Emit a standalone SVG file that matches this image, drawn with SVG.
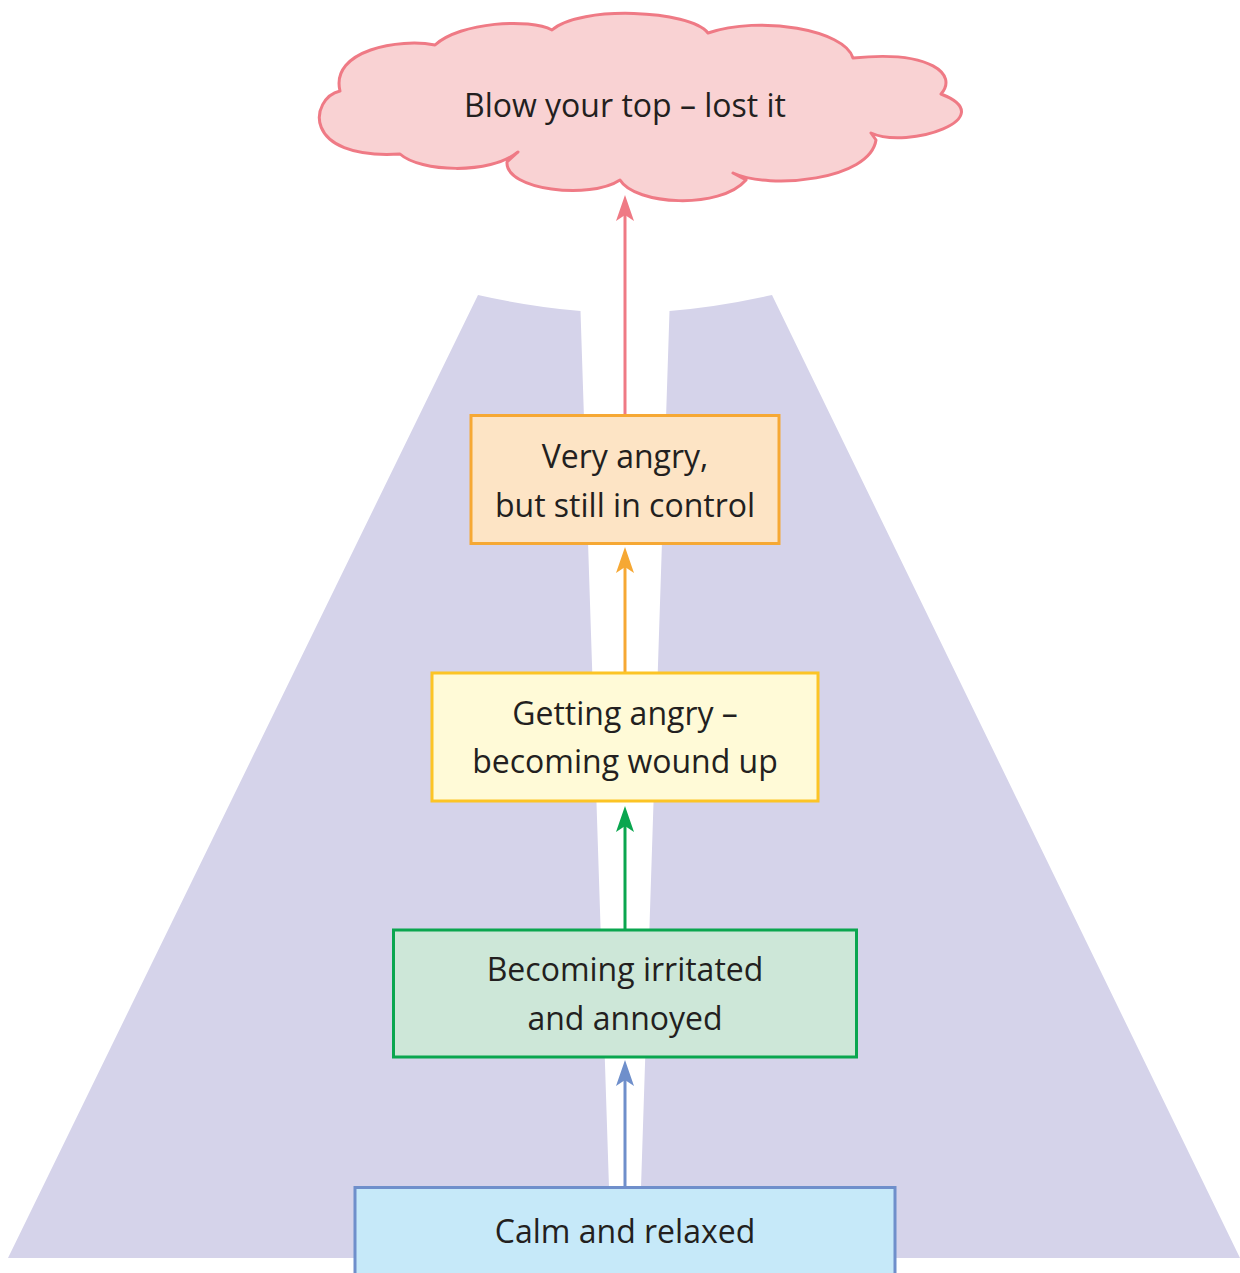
<svg xmlns="http://www.w3.org/2000/svg" width="1240" height="1273" viewBox="0 0 1240 1273">
<defs>
<style>
.lbl{font-family:"Open Sans","Noto Sans","Liberation Sans",sans-serif;font-size:32px;fill:#231f20;text-anchor:middle}
.box{stroke-width:3}
.conn{stroke-width:3;fill:none}
</style>
<marker id="ah-blue" markerUnits="userSpaceOnUse" markerWidth="30" markerHeight="20" viewBox="-10 -10 30 20" refX="0" refY="0" orient="auto"><path d="M18,0 L-8,-9 L-2,0 L-8,9 Z" fill="#6f8fcb"/></marker>
<marker id="ah-green" markerUnits="userSpaceOnUse" markerWidth="30" markerHeight="20" viewBox="-10 -10 30 20" refX="0" refY="0" orient="auto"><path d="M18,0 L-8,-9 L-2,0 L-8,9 Z" fill="#0aa64f"/></marker>
<marker id="ah-orange" markerUnits="userSpaceOnUse" markerWidth="30" markerHeight="20" viewBox="-10 -10 30 20" refX="0" refY="0" orient="auto"><path d="M18,0 L-8,-9 L-2,0 L-8,9 Z" fill="#f6a834"/></marker>
<marker id="ah-pink" markerUnits="userSpaceOnUse" markerWidth="30" markerHeight="20" viewBox="-10 -10 30 20" refX="0" refY="0" orient="auto"><path d="M18,0 L-8,-9 L-2,0 L-8,9 Z" fill="#ef7a85"/></marker>
</defs>
<rect width="1240" height="1273" fill="#ffffff"/>
<g id="background-road" fill="#d5d3ea">
<path d="M478,295 Q531,307 580.5,311 L611.3,1258 L8,1258 Z"/>
<path d="M772,295 Q719,307 669.5,311 L638.7,1258 L1240,1258 Z"/>
</g>
<g id="connectors">
<line class="conn" x1="625" y1="1187" x2="625" y2="1078" stroke="#6f8fcb" marker-end="url(#ah-blue)"/>
<line class="conn" x1="625" y1="930" x2="625" y2="824" stroke="#0aa64f" marker-end="url(#ah-green)"/>
<line class="conn" x1="625" y1="673" x2="625" y2="565" stroke="#f6a834" marker-end="url(#ah-orange)"/>
<line class="conn" x1="625" y1="415" x2="625" y2="213" stroke="#ef7a85" marker-end="url(#ah-pink)"/>
</g>
<g id="node-lost-it">
<path d="M340,91 C310,98 300,160 400,154 C420,172 490,175 518,152 L507,162 C505,190 590,200 620,180 C635,205 720,210 746,180 L733,173 C770,190 870,180 876,140 L871,133 C908,150 1003,118 941,94 C958,75 932,50 853,58 C845,30 760,15 708,33 C690,10 580,5 552,30 C530,18 460,22 435,45 C400,38 330,50 340,91 Z" fill="#f9d2d3" stroke="#ef7a85" stroke-width="3" stroke-linejoin="round"/>
<text class="lbl" x="625" y="117">Blow your top – lost it</text>
</g>
<g id="node-very-angry">
<rect class="box" x="471" y="415.5" width="308" height="128" fill="#fde4c5" stroke="#f6a834"/>
<text class="lbl" x="625" y="468">Very angry,</text>
<text class="lbl" x="625" y="517">but still in control</text>
</g>
<g id="node-getting-angry">
<rect class="box" x="432" y="673" width="386" height="128" fill="#fffad7" stroke="#fcc425"/>
<text class="lbl" x="625" y="725">Getting angry –</text>
<text class="lbl" x="625" y="773">becoming wound up</text>
</g>
<g id="node-irritated">
<rect class="box" x="393.5" y="930" width="463" height="127" fill="#cde7d8" stroke="#0aa64f"/>
<text class="lbl" x="625" y="981">Becoming irritated</text>
<text class="lbl" x="625" y="1030">and annoyed</text>
</g>
<g id="node-calm">
<rect class="box" x="355" y="1187.5" width="540" height="100" fill="#c6e9f9" stroke="#6f8fcb"/>
<text class="lbl" x="625" y="1243">Calm and relaxed</text>
</g>
</svg>
